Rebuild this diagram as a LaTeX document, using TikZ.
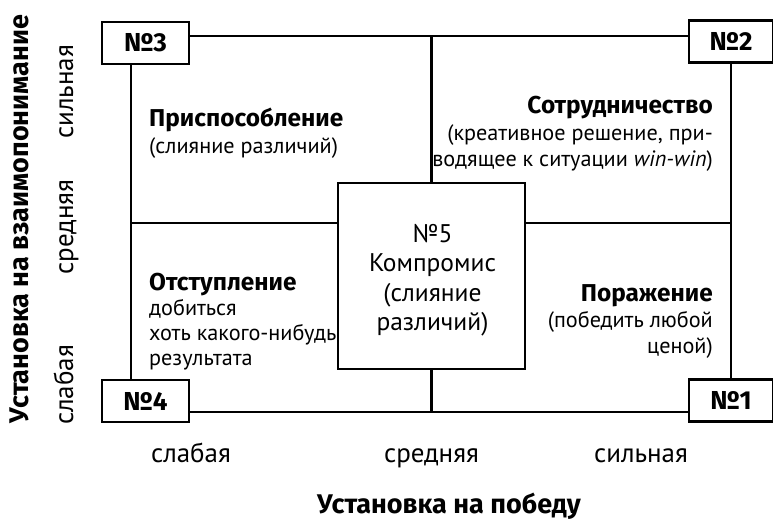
\documentclass[tikz,border=0pt]{standalone}
\usepackage{fontspec}
\setmainfont{PT Sans}
\newfontfamily\bfam{Fira Sans}
\begin{document}
\begin{tikzpicture}[x=1pt,y=-1pt,
  ln/.style={line width=2.4pt},
  numbox/.style={draw,line width=2.4pt,minimum width=87pt,minimum height=42pt,inner sep=0pt,font=\bfam\fontsize{26}{26}\selectfont\bfseries},
  body/.style={inner sep=0pt,font=\fontsize{22.2}{24}\selectfont},
  ctext/.style={inner sep=0pt,font=\fontsize{25.5}{26}\selectfont},
  head/.style={inner sep=0pt,font=\bfam\fontsize{24.4}{26}\selectfont\bfseries},
  axis/.style={inner sep=0pt,font=\bfam\fontsize{27}{27}\selectfont\bfseries},
  lvl/.style={inner sep=0pt,font=\fontsize{27}{27}\selectfont},
]
\useasboundingbox (0,0) rectangle (773,520);
% corner boxes
\node[numbox] (n3) at (145.5,43) {№3};
\node[numbox,minimum width=84pt] (n2) at (731,41.5) {№2};
\node[numbox] (n4) at (145.5,401) {№4};
\node[numbox,minimum width=84pt] (n1) at (731,400.5) {№1};
% centre box
\node[draw,ln,minimum width=187pt,minimum height=186pt,inner sep=0pt] (n5) at (431.5,276) {};
% junction points
\coordinate (T) at (431.5,36);
\coordinate (L) at (131,223);
\coordinate (R) at (731,223);
\coordinate (B) at (431.5,412);
% lines
\draw[ln] (n3.east |- T) -- (n2.west |- T);
\draw[ln] (n3.south -| L) -- (n4.north -| L);
\draw[ln] (n2.south) -- (n1.north);
\draw[ln] (n4.east |- B) -- (n1.west |- B);
\draw[ln] (L) -- (n5.west |- L);
\draw[ln] (n5.east |- R) -- (R);
\draw[ln] (T) -- (n5.north -| T);
\draw[ln] (n5.south -| B) -- (B);
% quadrant texts
\node[head,anchor=base west] (q3a) at (149,126) {Приспособление};
\node[body,anchor=base west] (q3b) at (149,153) {(слияние различий)};
\node[head,anchor=base east] (q2a) at (713,113) {Сотрудничество};
\node[body,anchor=base east] (q2b) at (713,140) {(креативное решение, при-};
\node[body,anchor=base east] (q2c) at (713,166) {водящее к ситуации \textit{win-win})};
\node[head,anchor=base west] (q4a) at (149,290) {Отступление};
\node[body,anchor=base west] (q4b) at (149,315) {добиться};
\node[body,anchor=base west] (q4c) at (149,340) {хоть какого-нибудь};
\node[body,anchor=base west] (q4d) at (149,365) {результата};
\node[head,anchor=base east] (q1a) at (713,301) {Поражение};
\node[body,anchor=base east] (q1b) at (713,327) {(победить любой};
\node[body,anchor=base east] (q1c) at (713,353) {ценой)};
\node[ctext,anchor=base] (c1) at (432.5,242) {№5};
\node[ctext,anchor=base] (c2) at (432.5,271) {Компромис};
\node[ctext,anchor=base] (c3) at (432.5,301) {(слияние};
\node[ctext,anchor=base] (c4) at (432.5,330) {различий)};
% axes
\node[lvl,anchor=base] (x1) at (191,462) {слабая};
\node[lvl,anchor=base] (x2) at (431.5,462) {средняя};
\node[lvl,anchor=base] (x3) at (641,462) {сильная};
\node[axis,anchor=base] (xt) at (449,513) {Установка на победу};
\node[lvl,anchor=base,rotate=90] (y3) at (73,92) {сильная};
\node[lvl,anchor=base,rotate=90] (y2) at (73,227) {средняя};
\node[lvl,anchor=base,rotate=90] (y1) at (73,385) {слабая};
\node[axis,anchor=base,rotate=90] (yt) at (28,219) {Установка на взаимопонимание};
\end{tikzpicture}
\end{document}
